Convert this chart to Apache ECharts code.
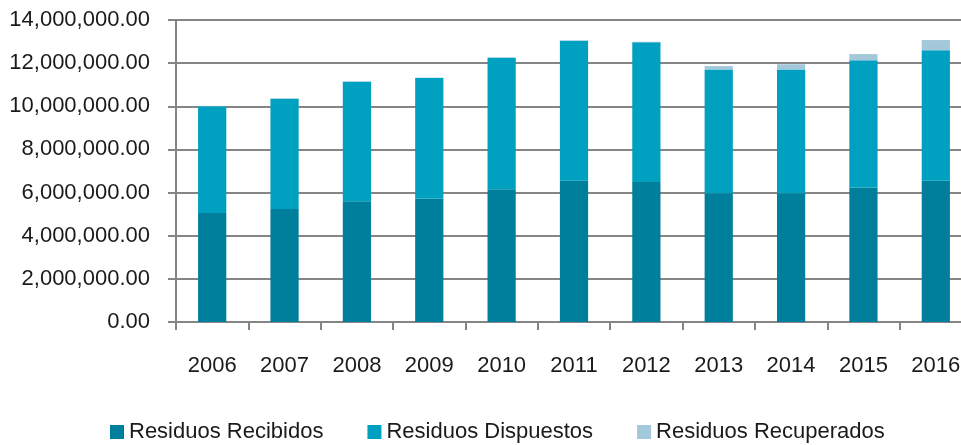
<!DOCTYPE html>
<html><head><meta charset="utf-8">
<script src="https://cdn.jsdelivr.net/npm/echarts@6/dist/echarts.min.js"></script>
<style>html,body{margin:0;padding:0;background:#fff}#c{width:961px;height:445px}</style>
</head><body><div id="c"></div>
<script>
const years = ['2006','2007','2008','2009','2010','2011','2012','2013','2014','2015','2016'];
const recibidos = [5050000,5240000,5600000,5720000,6150000,6550000,6490000,5970000,5970000,6240000,6550000];
const dispuestos = [4950000,5110000,5540000,5590000,6100000,6490000,6480000,5740000,5740000,5890000,6050000];
const recuperados = [20000,20000,20000,20000,20000,20000,20000,150000,240000,290000,470000];
const seriesNames = ['Residuos Recibidos','Residuos Dispuestos','Residuos Recuperados'];
const colors = ['#007F9C','#00A0C1','#A2C8DA'];

function fmt(v){
  const s = Math.round(v).toString().replace(/\B(?=(\d{3})+(?!\d))/g, ',');
  return s + '.00';
}
const font = '"Liberation Sans", Arial, sans-serif';
const chart = echarts.init(document.getElementById('c'), null, {renderer:'canvas'});
const data = [recibidos, dispuestos, recuperados];
chart.setOption({
  animation:false,
  color: colors,
  grid:{left:176, top:20, width:796, bottom:123, containLabel:false, outerBoundsMode:'none'},
  legend:{
    top:421, left:110, itemWidth:14, itemHeight:14, itemGap:44, icon:'rect', padding:0,
    textStyle:{fontFamily:font, fontSize:22, color:'#1a1a1a', padding:[0,0,0,0]},
    data: seriesNames
  },
  xAxis:{
    type:'category', data: years, boundaryGap:true,
    axisLine:{lineStyle:{color:'#858585', width:2}},
    axisTick:{show:true, alignWithLabel:false, length:8, lineStyle:{color:'#858585', width:2}},
    axisLabel:{fontFamily:font, fontSize:22, color:'#1a1a1a', margin:33, interval:0}
  },
  yAxis:{
    type:'value', min:0, max:14000000, interval:2000000,
    axisLine:{show:true, lineStyle:{color:'#858585', width:2}},
    axisTick:{show:true, length:8, lineStyle:{color:'#858585', width:2}},
    splitLine:{show:true, lineStyle:{color:'#858585', width:2}},
    axisLabel:{fontFamily:font, fontSize:22, color:'#1a1a1a', margin:26, formatter: fmt}
  },
  series: seriesNames.map((n,i)=>({
    name:n, type:'bar', stack:'total', data:data[i], barWidth:'39%',
    itemStyle:{color:colors[i]}
  }))
});
</script></body></html>
